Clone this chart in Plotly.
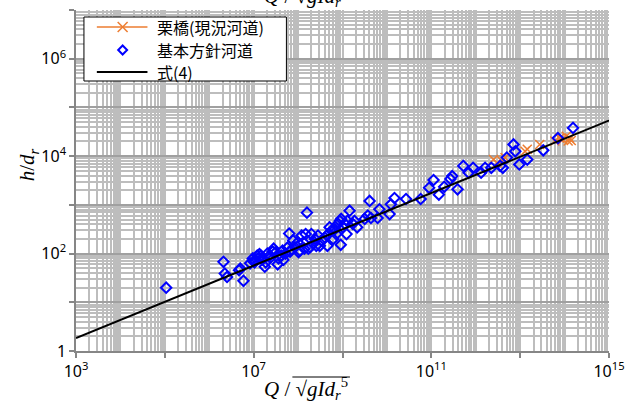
import numpy as np
import plotly.graph_objects as go

# ---- data (log10 of values) ----
# 栗橋(現況河道): log10(Q/sqrt(g I d^5)), log10(h/d)
kuri_log_q = [12.40, 12.48, 12.59, 12.66, 13.11, 13.16, 13.44, 13.78, 13.89, 13.96, 14.04, 14.08, 14.11, 14.15]
kuri_log_h = [3.93, 3.86, 3.90, 3.97, 4.10, 4.14, 4.24, 4.31, 4.37, 4.34, 4.41, 4.31, 4.37, 4.32]

# 基本方針河道
plan_log_q = [5.03, 6.32, 6.35, 6.40, 6.67, 6.70, 6.77, 6.92, 6.98, 7.00, 7.02, 7.08, 7.11, 7.13, 7.16,
              7.19, 7.20, 7.25, 7.27, 7.31, 7.34, 7.38, 7.43, 7.45, 7.49, 7.54, 7.56, 7.62, 7.65, 7.67,
              7.72, 7.76, 7.80, 7.82, 7.85, 7.89, 7.93, 7.99, 8.01, 8.04, 8.08, 8.12, 8.14, 8.17, 8.20,
              8.23, 8.27, 8.30, 8.34, 8.38, 8.41, 8.45, 8.49, 8.53, 8.60, 8.66, 8.68, 8.71, 8.75, 8.79,
              8.83, 8.86, 8.90, 8.94, 8.96, 8.97, 9.01, 9.05, 9.09, 9.11, 9.16, 9.23, 9.27, 9.33, 9.50,
              9.57, 9.61, 9.64, 9.79, 9.83, 10.06, 10.09, 10.17, 10.43, 10.76, 10.95, 11.05, 11.17, 11.29,
              11.43, 11.47, 11.59, 11.72, 11.84, 11.94, 12.12, 12.21, 12.35, 12.55, 12.61, 12.70, 12.85,
              12.89, 12.98, 13.16, 13.52, 13.85, 14.19]
plan_log_h = [1.30, 1.83, 1.59, 1.52, 1.66, 1.69, 1.44, 1.80, 1.90, 1.84, 1.82, 1.96, 1.90, 1.99, 1.96,
              1.91, 1.88, 1.73, 1.82, 2.00, 1.94, 1.92, 2.04, 2.10, 2.02, 1.78, 1.90, 1.96, 2.06, 1.87,
              2.00, 2.12, 2.41, 2.04, 2.08, 2.27, 2.13, 2.23, 2.03, 2.06, 2.37, 2.23, 2.10, 2.40, 2.84,
              2.10, 2.13, 2.40, 2.20, 2.30, 2.16, 2.37, 2.16, 2.27, 2.33, 2.16, 2.40, 2.54, 2.47, 2.30,
              2.50, 2.40, 2.61, 2.67, 2.18, 2.71, 2.54, 2.61, 2.40, 2.67, 2.88, 2.61, 2.67, 2.54, 2.71,
              2.78, 3.08, 2.73, 2.73, 2.91, 2.81, 3.01, 3.14, 3.12, 3.12, 3.35, 3.51, 3.21, 3.37,
              3.53, 3.59, 3.32, 3.80, 3.66, 3.76, 3.66, 3.76, 3.76, 3.80, 3.76, 3.97, 4.24,
              4.10, 3.83, 3.93, 4.12, 4.37, 4.58]

# 式(4): end points of the fitted line
eq_log_q = [3.0, 15.05]
eq_log_h = [0.265, 4.75]

series_names = ["栗橋(現況河道)", "基本方針河道", "式(4)"]

x_tick_exp = [3, 5, 7, 9, 11, 13, 15]
x_tick_text = ["10<sup>3</sup>", "", "10<sup>7</sup>", "", "10<sup>11</sup>", "", "10<sup>15</sup>"]
y_tick_exp = [0, 1, 2, 3, 4, 5, 6, 7]
y_tick_text = ["1", "", "10<sup>2</sup>", "", "10<sup>4</sup>", "", "10<sup>6</sup>", ""]

# ---- figure ----
W, H = 635, 408
ml, mr, mt, mb = 76, 22, 10, 57

orange = "#ED7D31"
blue = "#0000FF"

fig = go.Figure()
fig.add_trace(go.Scatter(
    x=[10 ** v for v in kuri_log_q], y=[10 ** v for v in kuri_log_h], mode="markers",
    name=series_names[0],
    marker=dict(symbol="x-thin", size=9, line=dict(color=orange, width=1.5), color=orange),
))
fig.add_trace(go.Scatter(
    x=[10 ** v for v in plan_log_q], y=[10 ** v for v in plan_log_h], mode="markers",
    name=series_names[1],
    marker=dict(symbol="diamond-open", size=8, color=blue, line=dict(color=blue, width=2)),
))
fig.add_trace(go.Scatter(
    x=[10 ** v for v in eq_log_q], y=[10 ** v for v in eq_log_h], mode="lines",
    name=series_names[2], line=dict(color="black", width=2),
))

grid_minor = "#bdbdbd"
x_minor_vals = [k * 10.0 ** n for n in range(3, 15) for k in range(1, 10)] + [1e15]
y_minor_vals = [k * 10.0 ** n for n in range(0, 7) for k in range(2, 10)]

tick_font = dict(family="Noto Sans", size=16, color="black")

fig.update_xaxes(
    type="log", range=[3, 15],
    tickvals=[10.0 ** e for e in x_tick_exp], ticktext=x_tick_text,
    ticks="outside", ticklen=5, tickwidth=1.5, tickcolor="#868686",
    showline=True, linecolor="#868686", linewidth=1.5,
    showgrid=True, gridcolor=grid_minor, gridwidth=2,
    minor=dict(tickvals=x_minor_vals, showgrid=True, gridcolor=grid_minor, gridwidth=2, ticks=""),
    tickfont=tick_font, zeroline=False,
)
fig.update_yaxes(
    type="log", range=[0, 7],
    tickvals=[10.0 ** e for e in y_tick_exp], ticktext=y_tick_text,
    ticks="outside", ticklen=5, tickwidth=1.5, tickcolor="#868686",
    showline=True, linecolor="#868686", linewidth=1.5,
    showgrid=True, gridcolor="#a0a0a0", gridwidth=2,
    minor=dict(tickvals=y_minor_vals, showgrid=True, gridcolor=grid_minor, gridwidth=2, ticks=""),
    tickfont=tick_font, zeroline=False,
)

pw, ph = W - ml - mr, H - mt - mb
def px(xp):
    return (xp - ml) / pw
def py(yp):
    return (H - mb - yp) / ph

xlabel = "<i>Q</i> / √<i>gId<sub>r</sub></i><sup>5</sup>"
lab_font = dict(family="Liberation Serif", size=21, color="black")
fig.add_annotation(x=px(308), y=py(389), xref="paper", yref="paper", text=xlabel, showarrow=False,
                   xanchor="center", yanchor="middle", font=lab_font)
fig.add_annotation(x=px(308), y=py(-5), xref="paper", yref="paper", text=xlabel, showarrow=False,
                   xanchor="center", yanchor="middle", font=lab_font)
fig.add_annotation(x=px(28), y=py(165), xref="paper", yref="paper",
                   text="<i>h</i>/<i>d<sub>r</sub></i>", textangle=-90, showarrow=False,
                   xanchor="center", yanchor="middle", font=lab_font)
# overline of the square root
fig.add_shape(type="line", xref="paper", yref="paper", x0=px(294), x1=px(352), y0=py(377), y1=py(377),
              line=dict(color="black", width=1))

# ---- legend (drawn as a boxed key) ----
leg_font = dict(family="Noto Sans CJK JP", size=16, color="black")
fig.add_shape(type="rect", xref="paper", yref="paper", x0=px(84), x1=px(288), y0=py(17), y1=py(81),
              line=dict(color="black", width=1), fillcolor="white", layer="above")
rows = [27, 50, 72]
# row 1: orange line with x
fig.add_shape(type="line", xref="paper", yref="paper", x0=px(97), x1=px(148), y0=py(rows[0]), y1=py(rows[0]),
              line=dict(color=orange, width=1.5), layer="above")
for (a, b, c, d) in [(118, 22, 128, 32), (118, 32, 128, 22)]:
    fig.add_shape(type="line", xref="paper", yref="paper", x0=px(a), x1=px(c), y0=py(b), y1=py(d),
                  line=dict(color=orange, width=1.5), layer="above")
# row 2: blue open diamond
cx, cy = 123, rows[1]
pts = [(cx, cy - 4.5), (cx + 4.5, cy), (cx, cy + 4.5), (cx - 4.5, cy)]
path = "M " + " L ".join(f"{px(a):.5f},{py(b):.5f}" for a, b in pts) + " Z"
fig.add_shape(type="path", xref="paper", yref="paper", path=path,
              line=dict(color=blue, width=2), fillcolor="rgba(0,0,0,0)", layer="above")
# row 3: black line
fig.add_shape(type="line", xref="paper", yref="paper", x0=px(97), x1=px(148), y0=py(rows[2]), y1=py(rows[2]),
              line=dict(color="black", width=2), layer="above")
for name, r in zip(series_names, rows):
    fig.add_annotation(x=px(156), y=py(r), xref="paper", yref="paper", text=name, showarrow=False,
                       xanchor="left", yanchor="middle", font=leg_font)

fig.update_layout(
    width=W, height=H, margin=dict(l=ml, r=mr, t=mt, b=mb),
    paper_bgcolor="white", plot_bgcolor="white",
    showlegend=False,
)

fig.write_html("out.html")
